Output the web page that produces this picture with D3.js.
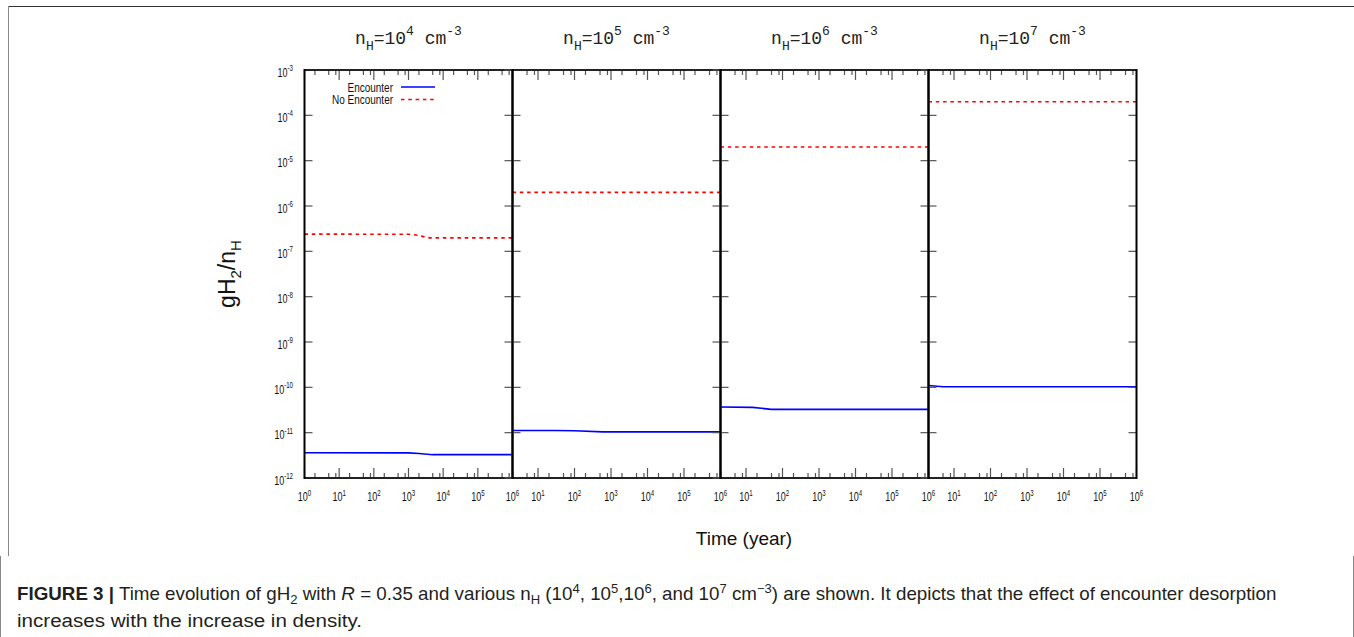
<!DOCTYPE html>
<html><head><meta charset="utf-8">
<script src="https://cdn.jsdelivr.net/npm/d3@7"></script>
<style>body{margin:0;background:#fff;overflow:hidden}</style>
</head><body>
<svg id="c" width="1354" height="637"></svg>
<script>
// ---------------- data ----------------
const densityExponents = [4, 5, 6, 7];
const panelXStart = [1, 2, 2, 2];
const panelXEnd = 1e6;
const yDomain = [1e-12, 1e-3];
const yTickExponents = [-12, -11, -10, -9, -8, -7, -6, -5, -4, -3];
const xTickExponents = [0, 1, 2, 3, 4, 5, 6];
const minorMultipliers = [2, 5, 8];

// Encounter (blue, solid)
const encTime1 = [1, 1000, 2000, 5000, 1e6];
const encVal1  = [3.6e-12, 3.58e-12, 3.48e-12, 3.27e-12, 3.27e-12];
const encTime2 = [2, 30, 100, 600, 9e5, 1e6];
const encVal2  = [1.12e-11, 1.12e-11, 1.10e-11, 1.04e-11, 1.04e-11, 1.02e-11];
const encTime3 = [2, 15, 50, 1e6];
const encVal3  = [3.68e-11, 3.62e-11, 3.27e-11, 3.27e-11];
const encTime4 = [2, 5, 9e5, 1e6];
const encVal4  = [1.1e-10, 1.03e-10, 1.03e-10, 1.01e-10];

// No Encounter (red, dashed)
const noEncTime1 = [1, 1000, 1600, 4000, 1e6];
const noEncVal1  = [2.4e-7, 2.38e-7, 2.3e-7, 1.98e-7, 1.98e-7];
const noEncTime2 = [2, 1e6];
const noEncVal2  = [2.0e-6, 2.0e-6];
const noEncTime3 = [2, 1e6];
const noEncVal3  = [2.0e-5, 2.0e-5];
const noEncTime4 = [2, 1e6];
const noEncVal4  = [2.0e-4, 2.0e-4];

const encTimes = [encTime1, encTime2, encTime3, encTime4];
const encVals = [encVal1, encVal2, encVal3, encVal4];
const noEncTimes = [noEncTime1, noEncTime2, noEncTime3, noEncTime4];
const noEncVals = [noEncVal1, noEncVal2, noEncVal3, noEncVal4];

const legendLabels = ["Encounter", "No Encounter"];
const yAxisTitle = [{t:"gH"},{t:"2",s:"sub"},{t:"/n"},{t:"H",s:"sub"}];
const xAxisTitle = "Time (year)";

// ---------------- layout ----------------
const svg = d3.select("#c");
const plotTop = 70, plotBottom = 478;
const panelLeft = 304.5, panelWidth = 208;
const blue = "#0000ff", red = "#ff0000";
const tickColor = "#555";
const tickFont = 12.5, tickSup = 8.5, tickScale = 0.72;

function rich(textSel, parts, base, small, up, down){
  let cur = 0;
  parts.forEach(p=>{
    const target = p.s==='sup' ? -up : p.s==='sub' ? down : 0;
    const ts = textSel.append('tspan').attr('dy', target-cur).text(p.t)
      .attr('font-size', p.s ? small : base);
    cur = target;
    if(p.b) ts.attr('font-weight','bold');
    if(p.i) ts.attr('font-style','italic');
  });
}

// frame lines
svg.append('line').attr('x1',8).attr('x2',1354).attr('y1',6.5).attr('y2',6.5).attr('stroke','#333').attr('stroke-width',1);
svg.append('line').attr('x1',8.5).attr('x2',8.5).attr('y1',6).attr('y2',556).attr('stroke','#888').attr('stroke-width',1);
svg.append('line').attr('x1',0.5).attr('x2',0.5).attr('y1',556).attr('y2',637).attr('stroke','#888').attr('stroke-width',1);
svg.append('line').attr('x1',1353.5).attr('x2',1353.5).attr('y1',556).attr('y2',637).attr('stroke','#888').attr('stroke-width',1);

const y = d3.scaleLog().domain(yDomain).range([plotBottom, plotTop]);

densityExponents.forEach((ex, i) => {
  const x0 = panelLeft + i*panelWidth, x1 = x0 + panelWidth;
  const x = d3.scaleLog().domain([panelXStart[i], panelXEnd]).range([x0, x1]);
  const g = svg.append('g');

  const cid = 'clip'+i;
  svg.append('clipPath').attr('id',cid).append('rect').attr('x',x0).attr('y',plotTop).attr('width',panelWidth).attr('height',plotBottom-plotTop);

  const line = d3.line().x(d=>x(d[0])).y(d=>y(d[1]));
  const redData = noEncTimes[i].map((t,k)=>[t, noEncVals[i][k]]);
  const blueData = encTimes[i].map((t,k)=>[t, encVals[i][k]]);
  g.append('path').datum(redData).attr('d',line).attr('fill','none')
    .attr('stroke',red).attr('stroke-width',1.6).attr('stroke-dasharray','3.5,3.8')
    .attr('clip-path',`url(#${cid})`);
  g.append('path').datum(blueData).attr('d',line).attr('fill','none')
    .attr('stroke',blue).attr('stroke-width',1.6).attr('clip-path',`url(#${cid})`);

  const majors = xTickExponents.map(e=>Math.pow(10,e)).filter(v=>v>=panelXStart[i] && v<=panelXEnd);
  const minors = [];
  xTickExponents.forEach(e=>minorMultipliers.forEach(m=>{const v=m*Math.pow(10,e); if(v>panelXStart[i] && v<panelXEnd) minors.push(v);}));
  const tickG = g.append('g').attr('stroke',tickColor).attr('stroke-width',1.2);
  majors.forEach(v=>{
    tickG.append('line').attr('x1',x(v)).attr('x2',x(v)).attr('y1',plotBottom).attr('y2',plotBottom-10);
    tickG.append('line').attr('x1',x(v)).attr('x2',x(v)).attr('y1',plotTop).attr('y2',plotTop+10);
  });
  minors.forEach(v=>{
    tickG.append('line').attr('x1',x(v)).attr('x2',x(v)).attr('y1',plotBottom).attr('y2',plotBottom-5);
    tickG.append('line').attr('x1',x(v)).attr('x2',x(v)).attr('y1',plotTop).attr('y2',plotTop+5);
  });
  majors.forEach(v=>{
    const e = Math.round(Math.log10(v));
    const lg = svg.append('g').attr('transform',`translate(${x(v)},501) scale(${tickScale},1)`);
    const t = lg.append('text').attr('text-anchor','middle').attr('font-family','Liberation Sans, Arial, sans-serif').attr('fill','#111');
    rich(t, [{t:"10"},{t:String(e),s:'sup'}], tickFont, tickSup, 5.5, 0);
  });

  yTickExponents.forEach(e=>{
    const yy = y(Math.pow(10,e));
    const leftOut = i===0 ? 0 : 8;
    tickG.append('line').attr('x1',x0-leftOut).attr('x2',x0+8).attr('y1',yy).attr('y2',yy);
    if(i===densityExponents.length-1) tickG.append('line').attr('x1',x1-8).attr('x2',x1).attr('y1',yy).attr('y2',yy);
  });

  g.append('line').attr('x1',x0).attr('x2',x1).attr('y1',plotTop).attr('y2',plotTop).attr('stroke','#222').attr('stroke-width',2);
  g.append('line').attr('x1',x0).attr('x2',x1).attr('y1',plotBottom).attr('y2',plotBottom).attr('stroke','#222').attr('stroke-width',2);
  g.append('line').attr('x1',x0).attr('x2',x0).attr('y1',plotTop-1).attr('y2',plotBottom+1).attr('stroke','#000').attr('stroke-width',2);
  g.append('line').attr('x1',x1).attr('x2',x1).attr('y1',plotTop-1).attr('y2',plotBottom+1).attr('stroke','#000').attr('stroke-width',2);

  const tt = svg.append('text').attr('x',(x0+x1)/2).attr('y',44).attr('text-anchor','middle')
    .attr('font-family','Liberation Mono, DejaVu Sans Mono, monospace').attr('fill','#222');
  rich(tt, [{t:"n"},{t:"H",s:'sub'},{t:"=10"},{t:String(ex),s:'sup'},{t:"  cm"},{t:"-3",s:'sup'}], 18, 13, 9, 6);
});

yTickExponents.forEach(e=>{
  const yy = y(Math.pow(10,e));
  const lg = svg.append('g').attr('transform',`translate(293,${yy+6.5}) scale(${tickScale},1)`);
  const t = lg.append('text').attr('text-anchor','end').attr('font-family','Liberation Sans, Arial, sans-serif').attr('fill','#111');
  rich(t, [{t:"10"},{t:String(e),s:'sup'}], tickFont, tickSup, 5.5, 0);
});

const legG = svg.append('g');
legendLabels.forEach((lab,k)=>{
  const ly = 87 + k*12.5;
  const lg = legG.append('g').attr('transform',`translate(393,${ly+4.5}) scale(0.8,1)`);
  lg.append('text').attr('text-anchor','end').attr('font-family','Liberation Sans, Arial, sans-serif')
    .attr('font-size',12.5).attr('fill','#111').text(lab);
  legG.append('line').attr('x1',401).attr('x2',435).attr('y1',ly).attr('y2',ly)
    .attr('stroke',k===0?blue:red).attr('stroke-width',1.6).attr('stroke-dasharray',k===0?null:'3.5,3.8');
});

const yt = svg.append('text').attr('transform','translate(235,274) rotate(-90)').attr('text-anchor','middle')
  .attr('font-family','Liberation Sans, Arial, sans-serif').attr('fill','#111');
rich(yt, yAxisTitle, 23, 15, 0, 6);
svg.append('text').attr('x',744).attr('y',545).attr('text-anchor','middle')
  .attr('font-family','Liberation Sans, Arial, sans-serif').attr('font-size',19).attr('fill','#111').text(xAxisTitle);

function captionLine(parts, yb, targetW){
  const g = svg.append('g');
  const t = g.append('text').attr('font-family','Liberation Sans, Arial, sans-serif').attr('fill','#231f20');
  rich(t, parts, 18, 12.5, 7, 4);
  const w = t.node().getComputedTextLength();
  g.attr('transform', `translate(17,${yb}) scale(${targetW/w},1)`);
}
captionLine([
  {t:"FIGURE 3 |",b:true},{t:" Time evolution of gH"},{t:"2",s:'sub'},{t:" with "},{t:"R",i:true},
  {t:" = 0.35 and various n"},{t:"H",s:'sub'},{t:" (10"},{t:"4",s:'sup'},{t:", 10"},{t:"5",s:'sup'},
  {t:",10"},{t:"6",s:'sup'},{t:", and 10"},{t:"7",s:'sup'},{t:"  cm"},{t:"\u22123",s:'sup'},
  {t:") are shown. It depicts that the effect of encounter desorption"}
], 600, 1261);
captionLine([{t:"increases with the increase in density."}], 627, 345);
</script>
</body></html>
